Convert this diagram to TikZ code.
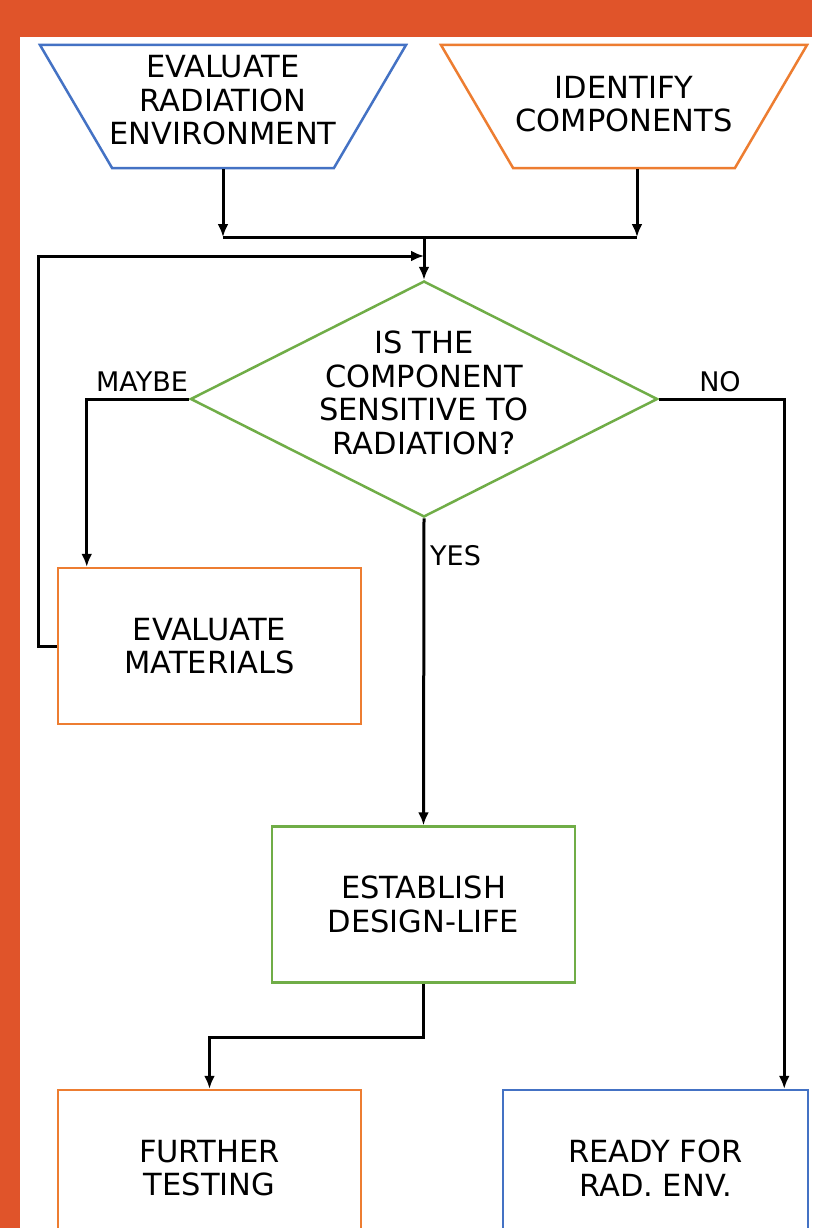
\documentclass[tikz,border=0pt]{standalone}
\usepackage{fontspec}
\setmainfont{DejaVu Sans}
\usetikzlibrary{shapes.geometric,arrows.meta}
\definecolor{frame}{RGB}{224,84,42}
\definecolor{ablue}{RGB}{68,114,196}
\definecolor{aorange}{RGB}{237,125,49}
\definecolor{agreen}{RGB}{112,173,71}
\tikzset{
  txt/.style={font=\fontsize{30.5}{33.5}\selectfont,align=center,inner sep=0pt},
  lbl/.style={font=\fontsize{27}{30}\selectfont,inner sep=0pt},
  box/.style={txt,draw,line width=2.5pt,minimum width=303pt,minimum height=156pt},
  trap/.style={draw,line width=2.5pt,trapezium,trapezium angle=72,
    shape border rotate=180,trapezium stretches=true,inner sep=2pt,
    minimum width=366pt,minimum height=123pt},
  decision/.style={draw,line width=2.5pt,diamond,inner sep=2pt,
    minimum width=467pt,minimum height=236pt},
  line/.style={line width=3pt},
  arr/.style={line,-{Latex[length=13pt,width=11pt]}}
}

\begin{document}
\begin{tikzpicture}[x=1pt,y=-1pt]
  \useasboundingbox (0,0) rectangle (812,1228);
  \fill[frame] (0,0) rectangle (812,1228);
  \fill[white] (20,37) rectangle (812,1228);
  \clip (0,0) rectangle (812,1228);
  % inputs
  \node[trap,ablue] (env) at (223,106.5) {};
  \node[txt] (envtext) at (223,100.5) {EVALUATE\\RADIATION\\ENVIRONMENT};
  \node[trap,aorange] (comp) at (624,106.5) {};
  \node[txt] (comptext) at (624,104) {IDENTIFY\\COMPONENTS};
  % question
  \node[decision,agreen] (dec) at (424,399) {};
  \node[txt] (dectext) at (424,393) {IS THE\\COMPONENT\\SENSITIVE TO\\RADIATION?};
  % results
  \node[box,aorange,text=black] (mat) at (209.5,646) {EVALUATE\\MATERIALS};
  \node[box,agreen,text=black] (est) at (423.5,904.5) {ESTABLISH\\DESIGN-LIFE};
  \node[box,aorange,text=black] (fur) at (209.5,1168) {FURTHER\\TESTING};
  \node[box,ablue,text=black,minimum width=305pt] (rdy) at (655.5,1168) {READY FOR\\RAD. ENV.};
  \coordinate (join) at (424,237);
  \coordinate (loop) at (424,256);
  % merge
  \draw[arr] (env.south) -- (env.south |- join);
  \draw[arr] ([xshift=13pt]comp.south) -- ([xshift=13pt]comp.south |- join);
  \draw[line] (env.south |- join) -- ([xshift=13pt]comp.south |- join);
  \draw[arr] (join) -- (dec.north);
  \draw[arr] (mat.west) -- ++(-18,0) |- (loop);
  % answers
  \draw[arr] (dec.west) -| ([xshift=30pt]mat.north west);
  \draw[arr] (dec.east) -| ([xshift=-25pt]rdy.north east);
  \draw[arr] (dec.south) -- (est.north);
  \draw[arr] (est.south) -- ++(0,54) -| (fur.north);
  \node[lbl] (maybe) at (142,382) {MAYBE};
  \node[lbl] (no) at (720,382) {NO};
  \node[lbl,anchor=west] (yes) at (430,556) {YES};
\end{tikzpicture}
\end{document}
